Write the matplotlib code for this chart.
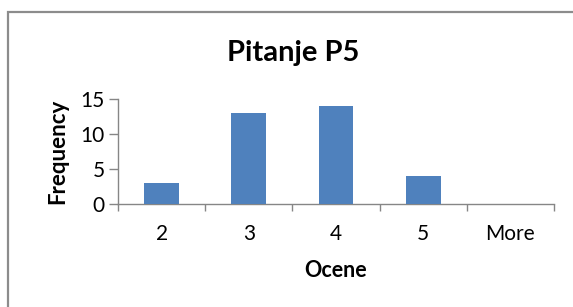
import matplotlib
matplotlib.use("Agg")
import matplotlib.pyplot as plt
from matplotlib.patches import Rectangle
import numpy as np

categories = ["2", "3", "4", "5", "More"]
frequency = [3, 13, 14, 4, 0]
yticks = [0, 5, 10, 15]

plt.rcParams['font.family'] = ['Lato', 'DejaVu Sans']

W, H = 573, 307
fig = plt.figure(figsize=(W/100, H/100), dpi=100)

# outer chart frame
fig.patches.append(Rectangle((8/W, -0.1), 1.2, 1.1 - 12/H, transform=fig.transFigure,
                             fill=False, edgecolor='#8c8c8c', linewidth=1.6))

ax = fig.add_axes([118/W, (H-204.3)/H, (554-118)/W, (204.3-99.3)/H])
x = np.arange(len(categories))
ax.bar(x, frequency, width=0.4, color='#4F81BD', zorder=3)
ax.set_xlim(-0.5, len(categories)-0.5)
ax.set_ylim(0, 15)
ax.set_yticks(yticks)
ax.set_xticks(x)
ax.set_xticklabels(categories)
ax.set_xticks(np.arange(-0.5, len(categories)), minor=True)

for s in ['top', 'right']:
    ax.spines[s].set_visible(False)
for s in ['left', 'bottom']:
    ax.spines[s].set_color('#868686')
    ax.spines[s].set_linewidth(1.0)

ax.tick_params(axis='x', which='major', length=0, pad=14, labelsize=15, colors='#000000')
ax.tick_params(axis='x', which='minor', length=5, direction='out', color='#868686', width=1.0)
ax.tick_params(axis='y', length=6.5, pad=3, labelsize=15, color='#868686', width=1.0)

fig.text(293/W, 1 - 53/H, "Pitanje P5", fontsize=21, fontweight='bold', ha='center', va='center')
ax.set_xlabel("Ocene", fontsize=15.5, fontweight='bold', labelpad=12)
ax.set_ylabel("Frequency", fontsize=16, fontweight='bold', labelpad=9)

fig.savefig("out.png", dpi=100)
